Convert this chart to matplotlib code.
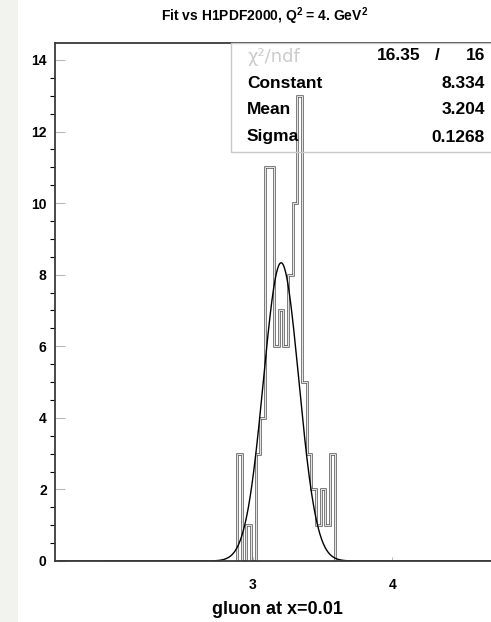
import numpy as np
import matplotlib
matplotlib.use("Agg")
import matplotlib.pyplot as plt
from matplotlib.patches import Rectangle

# ---- data ---------------------------------------------------------------
bin_start = 2.8875          # lower edge of the first filled bin
bin_width = 1.0 / 30.0
counts = [3, 0, 1, 0, 3, 4, 11, 11, 6, 7, 6, 8, 10, 13,
          5, 3, 2, 1, 2, 1, 3]

fit_const = 8.334
fit_mean = 3.204
fit_sigma = 0.1268
chi2 = 16.35
ndf = 16

x_ticks = [3, 4]
y_ticks = [0, 2, 4, 6, 8, 10, 12, 14]

title = r"Fit vs H1PDF2000, Q$^{\mathbf{2}}$ = 4. GeV$^{\mathbf{2}}$"
x_label = "gluon at x=0.01"

# ---- figure -------------------------------------------------------------
W, H = 491, 622
fig = plt.figure(figsize=(W / 100, H / 100), dpi=100)
plt.rcParams["font.family"] = ["Liberation Sans", "DejaVu Sans"]
plt.rcParams["mathtext.fontset"] = "custom"
plt.rcParams["mathtext.bf"] = "Liberation Sans:bold"
plt.rcParams["mathtext.rm"] = "Liberation Sans"


def fx(px):
    return px / W


def fy(py):
    return 1 - py / H


# light strip along the left border of the canvas
fig.add_artist(Rectangle((0, 0), fx(18), 1, transform=fig.transFigure,
                         facecolor="#f2f2ee", edgecolor="none", zorder=0))

left, right, top, bottom = 55, 496, 43, 561
ax = fig.add_axes([fx(left), fy(bottom), fx(right - left), fy(top) - fy(bottom)])
ax.set_xlim(1.583, 1.583 + (right - left) / 139.5)
ax.set_ylim(0, 14.475)

edges = bin_start + bin_width * np.arange(len(counts) + 1)
# hollow outline: dark stroke with a thin light core
ax.stairs(counts, edges, baseline=0, color="#555555", lw=1.8, zorder=3)
ax.stairs(counts, edges, baseline=0, color="white", lw=0.6, zorder=4)

xs = np.linspace(1.6, 4.8, 800)
ys = fit_const * np.exp(-0.5 * ((xs - fit_mean) / fit_sigma) ** 2)
ax.plot(xs, ys, color="black", lw=1.0, zorder=5)

for s in ["left", "bottom", "top"]:
    ax.spines[s].set_color("#3a3a3a")
    ax.spines[s].set_linewidth(1.3)
    ax.spines[s].set_zorder(6)
ax.spines["right"].set_visible(False)

ax.set_xticks(x_ticks)
ax.set_yticks(y_ticks)
ax.set_yticks(np.arange(0, 14.5, 0.5), minor=True)
ax.tick_params(axis="both", direction="in", colors="#b8b8b8", labelcolor="black",
               labelsize=10)
ax.tick_params(axis="y", which="major", length=7, width=0.8, pad=6)
ax.tick_params(axis="y", which="minor", length=3.5, width=0.8)
ax.tick_params(axis="x", which="major", length=3, width=0.8, pad=12)
for lab in ax.get_xticklabels() + ax.get_yticklabels():
    lab.set_fontweight("bold")

fig.text(fx(265), fy(16), title, ha="center", va="center",
         fontsize=10, fontweight="bold")
fig.text(fx(277), fy(609), x_label, ha="center", va="center",
         fontsize=13, fontweight="bold")

# statistics box
fig.add_artist(Rectangle((fx(231), fy(152)), fx(280), fy(43) - fy(152),
                         transform=fig.transFigure, facecolor="none",
                         edgecolor="#c8c8c8", lw=1.0, zorder=2))
rows = [("Constant", f"{fit_const:.3f}", 83),
        ("Mean", f"{fit_mean:.3f}", 110),
        ("Sigma", f"{fit_sigma:.4f}", 137)]
fig.text(fx(247), fy(57), "\u03c7\u00b2/ndf", ha="left", va="center",
         fontsize=13, color="#cccccc", family=["DejaVu Sans"])
fig.text(fx(420), fy(56), f"{chi2:.2f}", ha="right", va="center",
         fontsize=12.5, fontweight="bold")
fig.text(fx(437), fy(56), "/", ha="center", va="center",
         fontsize=12.5, fontweight="bold")
fig.text(fx(485), fy(56), f"{ndf}", ha="right", va="center",
         fontsize=12.5, fontweight="bold")
for name, val, yy in rows:
    fig.text(fx(247), fy(yy), name, ha="left", va="center",
             fontsize=12.5, fontweight="bold")
    fig.text(fx(485), fy(yy), val, ha="right", va="center",
             fontsize=12.5, fontweight="bold")

fig.savefig("out.png", dpi=100)
